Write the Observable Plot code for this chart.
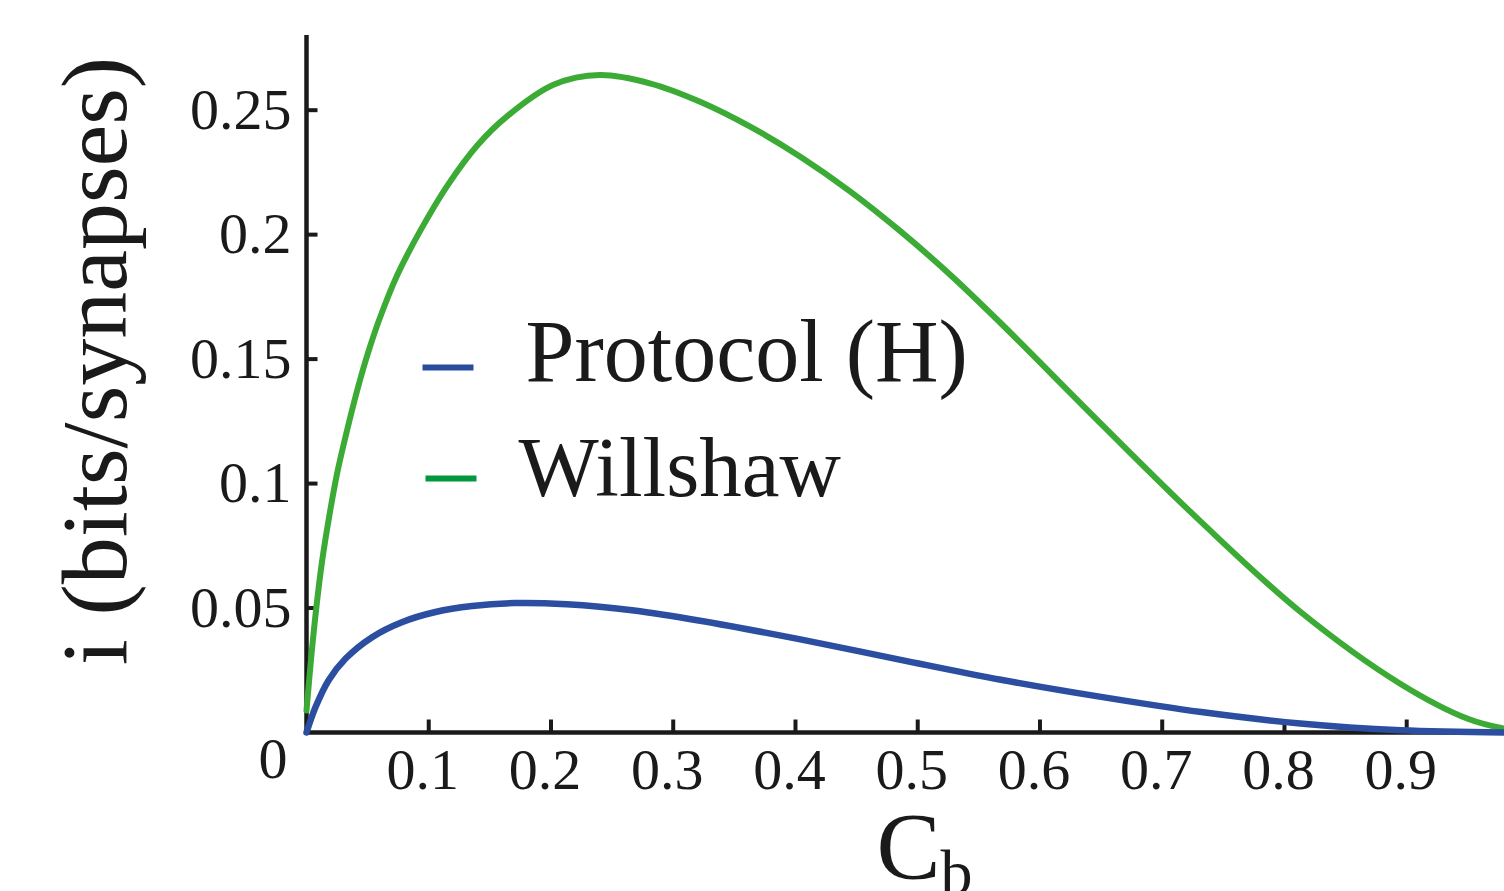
<!DOCTYPE html>
<html><head><meta charset="utf-8">
<script src="https://cdn.jsdelivr.net/npm/d3@7"></script>
<script src="https://cdn.jsdelivr.net/npm/@observablehq/plot@0.6"></script>
<style>html,body{margin:0;padding:0;background:#fff;} #chart{width:1504px;height:891px;overflow:hidden}</style>
</head><body><div id="chart"></div>
<script>
// ---- data ----
const seriesNames = ["Protocol (H)", "Willshaw"];
const seriesColors = ["#2b4ea0", "#3bab35"];
const legendColors = ["#2a4c9c", "#00973f"];

const cbProtocol = [0, 0.0074, 0.018, 0.032, 0.0537, 0.078, 0.1055, 0.1355, 0.17, 0.213, 0.268, 0.322, 0.404, 0.486, 0.568, 0.65, 0.732, 0.813, 0.895, 0.98];
const iProtocol  = [0, 0.0102, 0.0209, 0.0297, 0.0383, 0.0443, 0.0484, 0.0508, 0.052, 0.0515, 0.049, 0.0449, 0.0374, 0.0292, 0.0212, 0.0143, 0.0082, 0.0036, 0.0009, 0.0];

const cbWillshaw = [0, 0.004, 0.008, 0.0128, 0.019, 0.025, 0.032, 0.0415, 0.05, 0.06, 0.074, 0.093, 0.115, 0.14, 0.164, 0.202, 0.24, 0.2815, 0.3224, 0.3633, 0.4043, 0.4452, 0.486, 0.527, 0.568, 0.65, 0.732, 0.813, 0.895, 0.95, 0.98];
const iWillshaw  = [0.0088, 0.031, 0.05, 0.069, 0.088, 0.104, 0.119, 0.1375, 0.152, 0.1665, 0.1835, 0.2015, 0.2195, 0.236, 0.2475, 0.2602, 0.2641, 0.2607, 0.2533, 0.2433, 0.2312, 0.2172, 0.2013, 0.1837, 0.1644, 0.124, 0.0845, 0.0485, 0.0195, 0.0055, 0.0015];

const xTicks = [0.1, 0.2, 0.3, 0.4, 0.5, 0.6, 0.7, 0.8, 0.9];
const xTickLabels = ["0.1", "0.2", "0.3", "0.4", "0.5", "0.6", "0.7", "0.8", "0.9"];
const yTicks = [0.05, 0.1, 0.15, 0.2, 0.25];
const yTickLabels = ["0.05", "0.1", "0.15", "0.2", "0.25"];
const originLabel = "0";
const yLabel = "i (bits/synapses)";
const xLabelMain = "C";
const xLabelSub = "b";

// ---- tables ----
const protocol = cbProtocol.map((c, i) => ({cb: c, i: iProtocol[i]}));
const willshaw = cbWillshaw.map((c, i) => ({cb: c, i: iWillshaw[i]}));

const ink = "#1a1a1a";
const serif = "Liberation Serif";
const segment = {draw(context, l) { context.moveTo(0, 0); context.lineTo(0, -l); }};

const chart = Plot.plot({
  width: 1504,
  height: 891,
  marginLeft: 306,
  marginRight: 0,
  marginTop: 35,
  marginBottom: 159,
  style: {fontFamily: serif, fontSize: "58px", color: ink, background: "white", overflow: "visible"},
  x: {domain: [0, 0.98]},
  y: {domain: [0, 0.28]},
  marks: [
    // axis lines
    Plot.ruleX([0], {stroke: ink, strokeWidth: 4.5}),
    Plot.ruleY([0], {stroke: ink, strokeWidth: 4.5}),
    // inward ticks
    Plot.vector(yTicks, {x: 0, y: d => d, length: 11, rotate: 90, anchor: "start", shape: segment, stroke: ink, strokeWidth: 4, strokeLinecap: "butt"}),
    Plot.vector(xTicks, {x: d => d, y: 0, length: 13, rotate: 0, anchor: "start", shape: segment, stroke: ink, strokeWidth: 4, strokeLinecap: "butt"}),
    // tick labels
    Plot.axisY(yTicks, {tickSize: 0, tickPadding: 15, tickFormat: d => yTickLabels[yTicks.indexOf(d)], fontSize: 58, fill: ink, label: null, stroke: null}),
    Plot.axisX(xTicks, {tickSize: 0, tickPadding: 15, dx: -6, tickFormat: d => xTickLabels[xTicks.indexOf(d)], fontSize: 58, fill: ink, label: null, stroke: null}),
    Plot.text([originLabel], {frameAnchor: "bottom-left", text: d => d, textAnchor: "end", lineAnchor: "bottom", dx: -19, dy: 45, fontSize: 58, fill: ink}),
    // axis titles
    Plot.text([yLabel], {frameAnchor: "left", text: d => d, rotate: -90, textAnchor: "middle", lineAnchor: "bottom", dx: -181, dy: -23, fontSize: 94, fill: ink}),
    Plot.text([xLabelMain], {frameAnchor: "bottom", text: d => d, textAnchor: "start", lineAnchor: "bottom", dx: -29, dy: 146, fontSize: 96, fill: ink}),
    Plot.text([xLabelSub], {frameAnchor: "bottom", text: d => d, textAnchor: "start", lineAnchor: "bottom", dx: 35, dy: 161, fontSize: 64, fill: ink}),
    // curves
    Plot.line(willshaw, {x: "cb", y: "i", stroke: seriesColors[1], strokeWidth: 6, curve: "catmull-rom"}),
    Plot.line(protocol, {x: "cb", y: "i", stroke: seriesColors[0], strokeWidth: 6.5, curve: "catmull-rom"}),
    // legend
    Plot.vector([seriesNames[0]], {frameAnchor: "top-left", dx: 116, dy: 332, length: 51, rotate: 90, anchor: "start", shape: segment, stroke: legendColors[0], strokeWidth: 6, strokeLinecap: "butt"}),
    Plot.vector([seriesNames[1]], {frameAnchor: "top-left", dx: 119, dy: 443, length: 51, rotate: 90, anchor: "start", shape: segment, stroke: legendColors[1], strokeWidth: 6, strokeLinecap: "butt"}),
    Plot.text([seriesNames[0]], {frameAnchor: "top-left", text: d => d, textAnchor: "start", lineAnchor: "bottom", dx: 219, dy: 345, fontSize: 88, fill: ink}),
    Plot.text([seriesNames[1]], {frameAnchor: "top-left", text: d => d, textAnchor: "start", lineAnchor: "bottom", dx: 212, dy: 460, fontSize: 85, fill: ink})
  ]
});
document.getElementById("chart").appendChild(chart);
</script>
</body></html>
